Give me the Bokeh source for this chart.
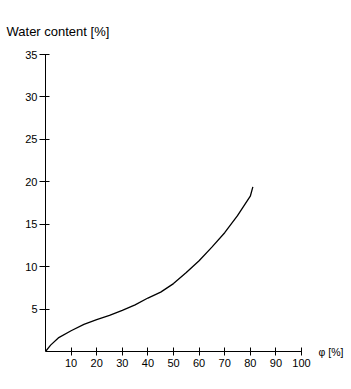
from bokeh.plotting import figure
from bokeh.models import FixedTicker, Range1d, Title, LinearAxis
from bokeh.embed import file_html
from bokeh.resources import INLINE

phi = [0, 2, 5, 10, 15, 20, 25, 30, 35, 40, 45, 50, 55, 60, 65, 70, 75, 80, 81]
water = [0, 0.75, 1.6, 2.45, 3.2, 3.75, 4.25, 4.85, 5.5, 6.3, 7.0, 8.0, 9.3, 10.7, 12.3, 14.0, 16.0, 18.3, 19.4]
x_ticks = [10, 20, 30, 40, 50, 60, 70, 80, 90, 100]
y_ticks = [5, 10, 15, 20, 25, 30, 35]
y_title = "Water content [%]"
x_title = "φ [%]"

p = figure(width=351, height=389, output_backend="svg", toolbar_location=None,
           x_range=Range1d(0, 100), y_range=Range1d(0, 35),
           min_border_left=45, min_border_right=50, min_border_top=54, min_border_bottom=38)
p.background_fill_color = "white"
p.border_fill_color = "white"
p.outline_line_color = None
p.grid.visible = False

p.line(phi, water, line_color="black", line_width=1.3)

FONT = "Liberation Sans"
for ax, ticks, tin, tout, so in ((p.xaxis[0], x_ticks, 4, 4, 3), (p.yaxis[0], y_ticks, 4, 6, 2)):
    ax.ticker = FixedTicker(ticks=ticks)
    ax.minor_tick_line_color = None
    ax.major_tick_in = tin
    ax.major_tick_out = tout
    ax.major_label_standoff = so
    ax.axis_line_color = "black"
    ax.major_tick_line_color = "black"
    ax.major_label_text_font = FONT
    ax.major_label_text_font_size = "11px"
    ax.major_label_text_color = "black"

# y-axis title, horizontal, above the plot
p.add_layout(Title(text=y_title, align="left", offset=-39, standoff=31,
                   text_font=FONT, text_font_size="13px", text_font_style="normal",
                   text_color="black"), "above")

# x-axis title, to the right of the x axis line
rax = LinearAxis(ticker=FixedTicker(ticks=[0]), major_label_overrides={0: x_title},
                 axis_line_color=None, major_tick_line_color=None, minor_tick_line_color=None,
                 major_tick_out=0, major_tick_in=0, major_label_standoff=17,
                 major_label_text_font=FONT, major_label_text_font_size="10.5px",
                 major_label_text_color="black")
p.add_layout(rax, "right")

open("out.html", "w").write(file_html(p, INLINE))
